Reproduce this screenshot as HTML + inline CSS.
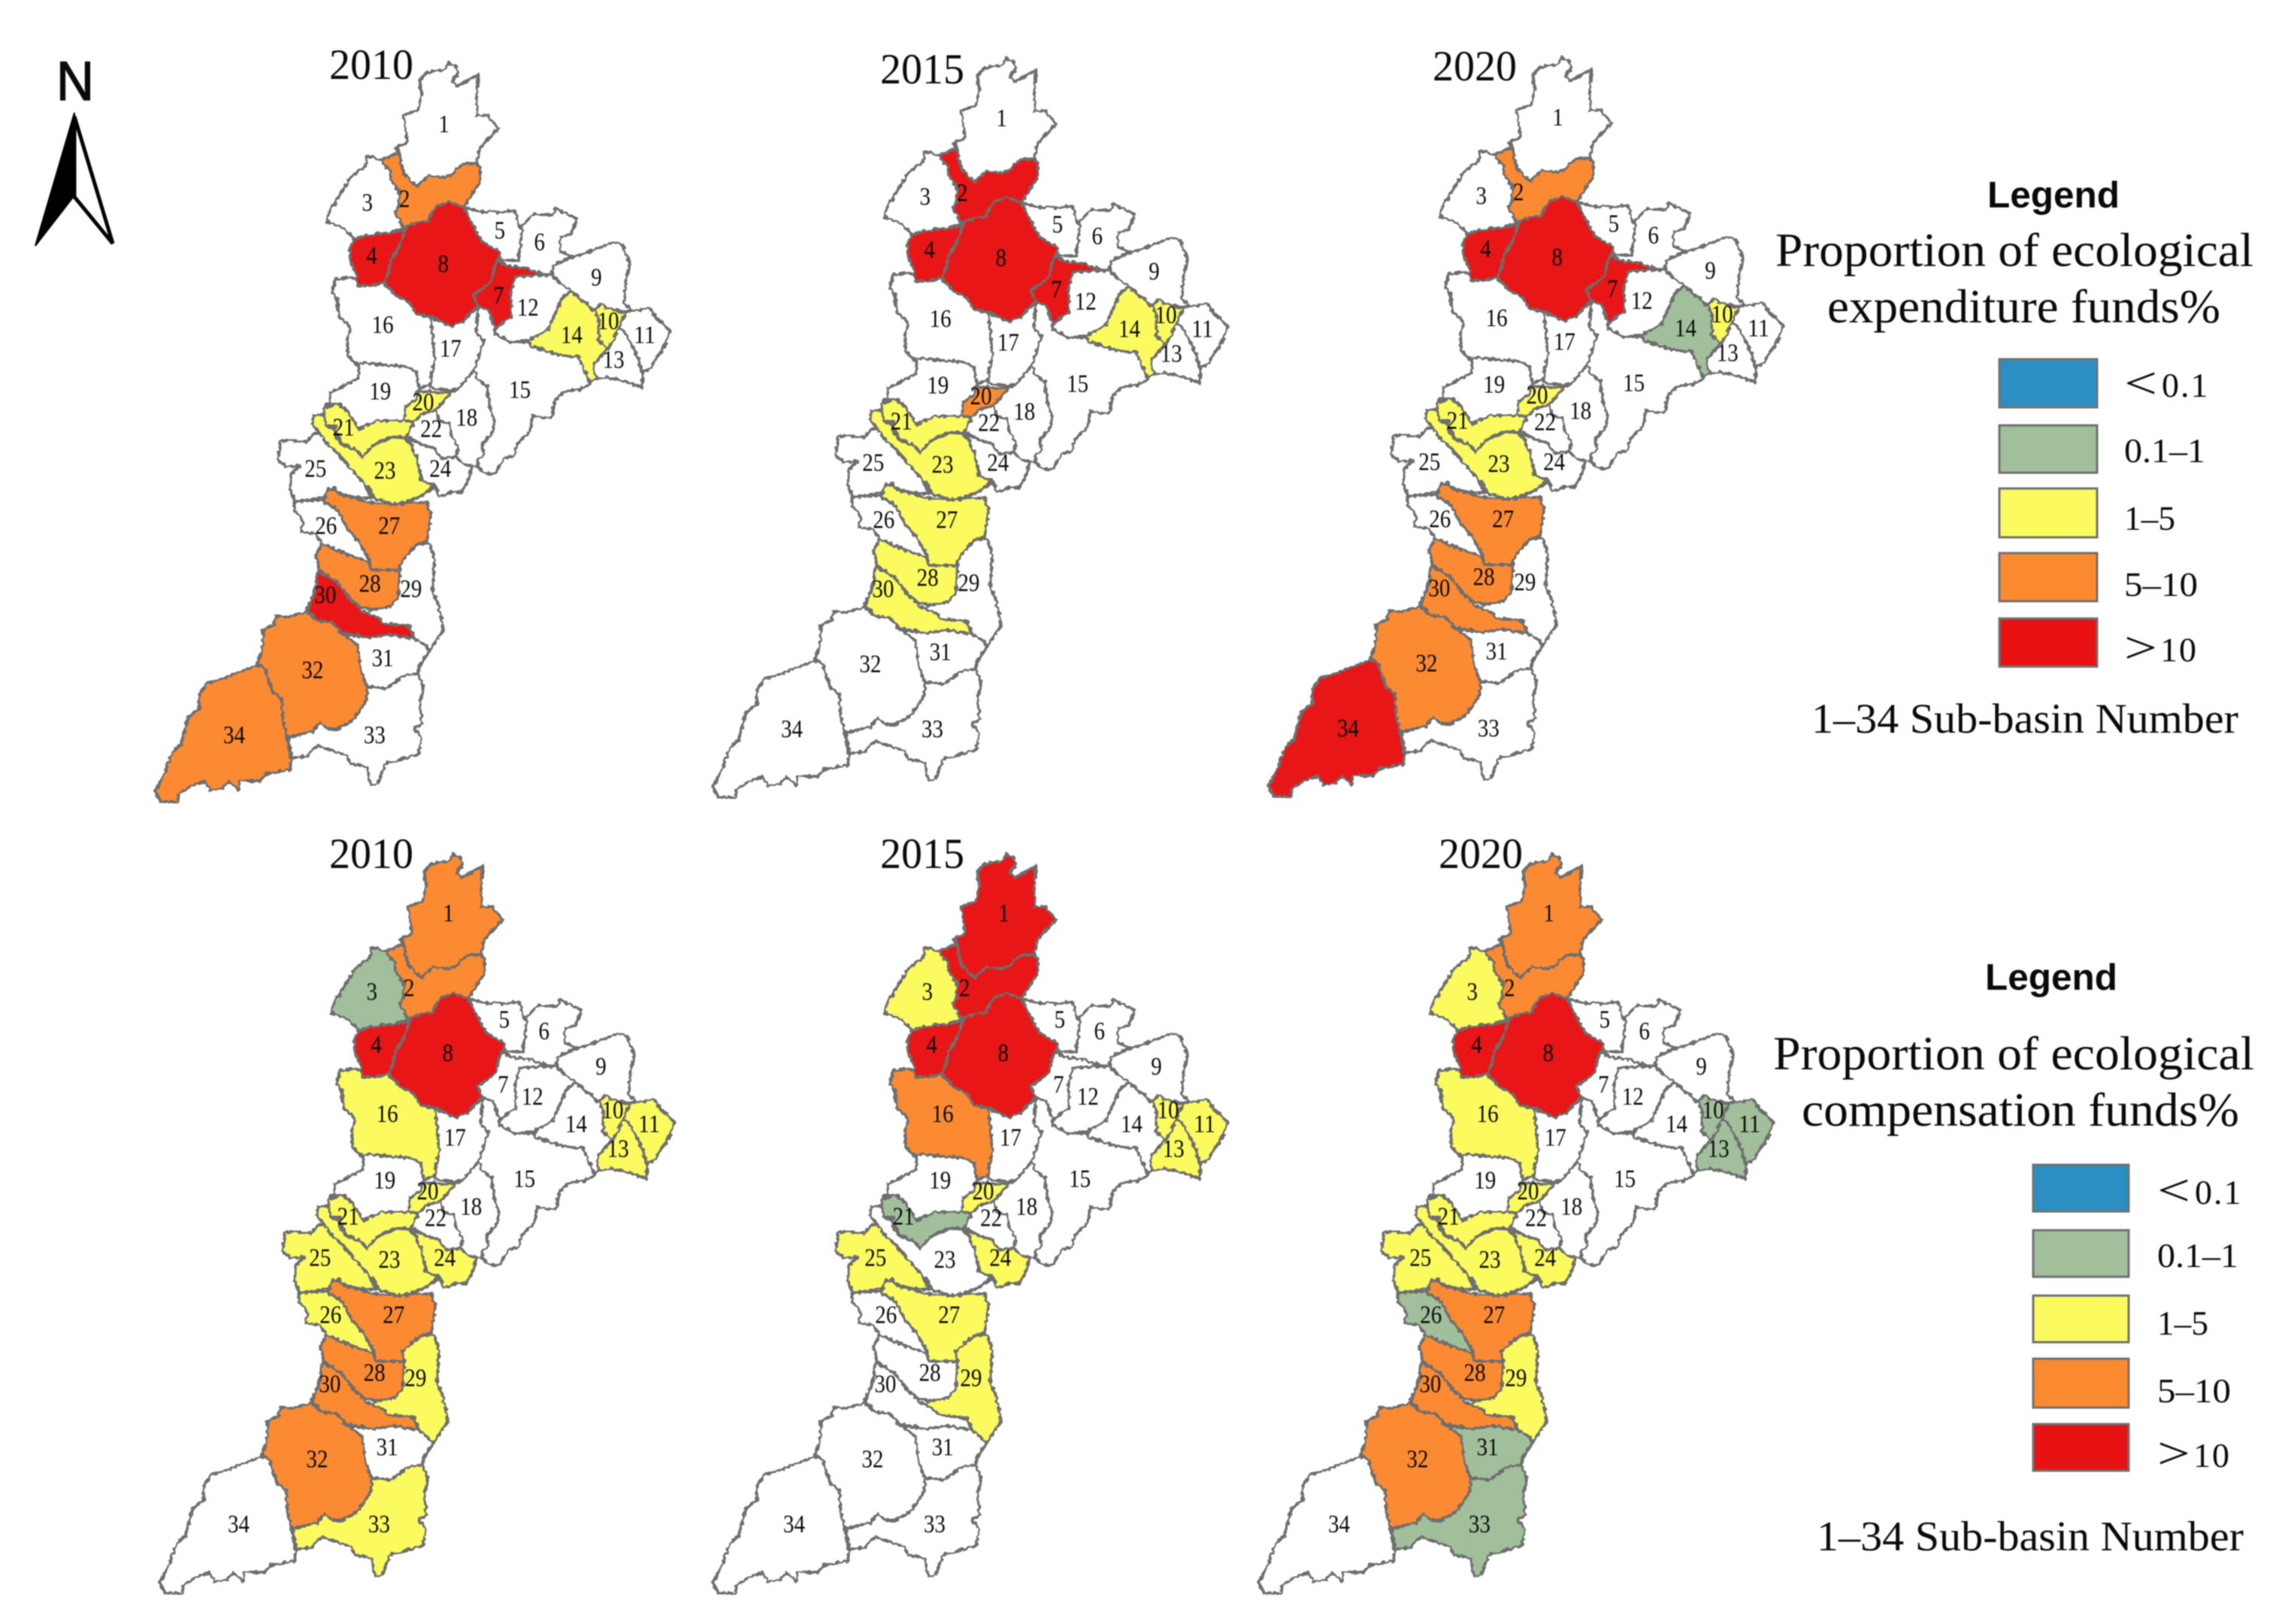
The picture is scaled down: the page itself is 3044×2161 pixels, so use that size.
<!DOCTYPE html>
<html lang="en">
<head>
<meta charset="utf-8">
<title>Proportion of ecological funds by sub-basin</title>
<style>
html,body{margin:0;padding:0;background:#fff;}
svg{display:block;filter:blur(0.7px);}
text{font-family:"Liberation Serif",serif;fill:#0a0a0a;}
.bold{font-family:"Liberation Sans",sans-serif;font-weight:bold;}
.sans{font-family:"Liberation Sans",sans-serif;}
.swatch{stroke:#707070;stroke-width:3;}
</style>
</head>
<body>
<svg id="figure" xmlns="http://www.w3.org/2000/svg" width="3044" height="2161" viewBox="0 0 3044 2161">
<defs>
<filter id="rough" x="-5%" y="-5%" width="110%" height="110%">
<feTurbulence type="fractalNoise" baseFrequency="0.2" numOctaves="1" seed="4"/>
<feDisplacementMap in="SourceGraphic" scale="7" xChannelSelector="R" yChannelSelector="G"/>
</filter>
</defs>
<rect width="3044" height="2161" fill="#fff"/>

<g>
<text class="sans" x="75" y="133" font-size="73" textLength="50" lengthAdjust="spacingAndGlyphs" stroke="#0a0a0a" stroke-width="1.5">N</text>
<polygon points="99,150 47,327 99,260" fill="#000" stroke="#000" stroke-width="2"/>
<polygon points="99,155 150,324 99,262" fill="#fff" stroke="#000" stroke-width="5"/>
</g>

<text x="438" y="105" font-size="57" textLength="112" lengthAdjust="spacingAndGlyphs">2010</text>
<text x="1171" y="111" font-size="57" textLength="112" lengthAdjust="spacingAndGlyphs">2015</text>
<text x="1906" y="107" font-size="57" textLength="112" lengthAdjust="spacingAndGlyphs">2020</text>
<text x="438" y="1155" font-size="57" textLength="112" lengthAdjust="spacingAndGlyphs">2010</text>
<text x="1171" y="1155" font-size="57" textLength="112" lengthAdjust="spacingAndGlyphs">2015</text>
<text x="1914" y="1155" font-size="57" textLength="112" lengthAdjust="spacingAndGlyphs">2020</text>

<g id="maps"></g>

<g>
<text class="bold" x="2644" y="276" font-size="49" textLength="176" lengthAdjust="spacingAndGlyphs">Legend</text>
<text x="2362" y="354" font-size="64" textLength="636" lengthAdjust="spacingAndGlyphs">Proportion of ecological</text>
<text x="2431" y="429" font-size="64" textLength="523" lengthAdjust="spacingAndGlyphs">expenditure funds%</text>
<rect class="swatch" x="2660" y="478" width="130" height="64" fill="#2b8fc4"/>
<rect class="swatch" x="2660" y="566" width="130" height="63" fill="#a1bf9a"/>
<rect class="swatch" x="2660" y="650" width="130" height="65" fill="#fbfb60"/>
<rect class="swatch" x="2660" y="736" width="130" height="64" fill="#fc8a30"/>
<rect class="swatch" x="2660" y="823" width="130" height="64" fill="#e81215"/>
<text x="2826" y="530" font-size="60" textLength="44" lengthAdjust="spacingAndGlyphs">&lt;</text>
<text x="2876" y="528" font-size="46" letter-spacing="2">0.1</text>
<text x="2826" y="615" font-size="46" textLength="108" lengthAdjust="spacingAndGlyphs">0.1–1</text>
<text x="2826" y="705" font-size="46" textLength="68" lengthAdjust="spacingAndGlyphs">1–5</text>
<text x="2826" y="793" font-size="46" textLength="98" lengthAdjust="spacingAndGlyphs">5–10</text>
<text x="2826" y="882" font-size="60" textLength="44" lengthAdjust="spacingAndGlyphs">&gt;</text>
<text x="2874" y="880" font-size="46" letter-spacing="2">10</text>
<text x="2410" y="975" font-size="56" textLength="568" lengthAdjust="spacingAndGlyphs">1–34 Sub-basin Number</text>
</g>

<g>
<text class="bold" x="2641" y="1317" font-size="49" textLength="176" lengthAdjust="spacingAndGlyphs">Legend</text>
<text x="2359" y="1423" font-size="64" textLength="640" lengthAdjust="spacingAndGlyphs">Proportion of ecological</text>
<text x="2397" y="1498" font-size="64" textLength="582" lengthAdjust="spacingAndGlyphs">compensation funds%</text>
<rect class="swatch" x="2705" y="1550" width="127" height="62" fill="#2b8fc4"/>
<rect class="swatch" x="2705" y="1637" width="127" height="62" fill="#a1bf9a"/>
<rect class="swatch" x="2705" y="1724" width="127" height="62" fill="#fbfb60"/>
<rect class="swatch" x="2705" y="1808" width="127" height="65" fill="#fc8a30"/>
<rect class="swatch" x="2705" y="1895" width="127" height="62" fill="#e81215"/>
<text x="2870" y="1604" font-size="60" textLength="44" lengthAdjust="spacingAndGlyphs">&lt;</text>
<text x="2920" y="1602" font-size="46" letter-spacing="2">0.1</text>
<text x="2870" y="1686" font-size="46" textLength="108" lengthAdjust="spacingAndGlyphs">0.1–1</text>
<text x="2870" y="1776" font-size="46" textLength="68" lengthAdjust="spacingAndGlyphs">1–5</text>
<text x="2870" y="1866" font-size="46" textLength="98" lengthAdjust="spacingAndGlyphs">5–10</text>
<text x="2870" y="1954" font-size="60" textLength="44" lengthAdjust="spacingAndGlyphs">&gt;</text>
<text x="2918" y="1952" font-size="46" letter-spacing="2">10</text>
<text x="2417" y="2063" font-size="56" textLength="568" lengthAdjust="spacingAndGlyphs">1–34 Sub-basin Number</text>
</g>
</svg>

<script>
// Class for each sub-basin 1..34: 0 none, 1 <0.1, 2 0.1-1, 3 1-5, 4 5-10, 5 >10
const expenditure2010 = [0,4,0,5,0,0,5,5,0,3,0,0,0,3,0,0,0,0,0,3,3,0,3,0,0,0,4,4,0,5,0,4,0,4];
const expenditure2015 = [0,5,0,5,0,0,5,5,0,3,0,0,0,3,0,0,0,0,0,4,3,0,3,0,0,0,3,3,0,3,0,0,0,0];
const expenditure2020 = [0,4,0,5,0,0,5,5,0,3,0,0,0,2,0,0,0,0,0,3,3,0,3,0,0,0,4,4,0,4,0,4,0,5];
const compensation2010 = [4,4,2,5,0,0,0,5,0,3,3,0,3,0,0,3,0,0,0,3,3,0,3,3,3,3,4,4,3,4,0,4,3,0];
const compensation2015 = [5,5,3,5,0,0,0,5,0,3,3,0,3,0,0,4,0,0,0,3,2,0,0,3,3,0,3,0,3,0,0,0,0,0];
const compensation2020 = [4,4,3,5,0,0,0,5,0,2,2,0,2,0,0,3,0,0,0,3,3,0,3,3,3,2,4,4,3,4,2,4,2,0];
const classColors = ['#ffffff','#2b8fc4','#a1bf9a','#fbfb60','#fc8a30','#e81215'];
const subBasinLabels = ['1','2','3','4','5','6','7','8','9','10','11','12','13','14','15','16','17','18','19','20','21','22','23','24','25','26','27','28','29','30','31','32','33','34'];

// Traced outline helpers (three tracing frames, all mapped to the first panel)
function pts(s,x0,sx,y0,sy){return s.trim().split(/\s+/).map(function(p){var c=p.split(',');return [x0+c[0]/sx,y0+c[1]/sy];});}
function A(s){return pts(s,180,2.06,50,2.8);}
function B(s){return pts(s,180,2.06,560,2.95);}
function Z(s){return pts(s,357.5,3,508,3);}

const outlines = [
A("858,95 880,110 885,130 868,165 885,180 910,160 940,138 935,210 938,290 965,290 995,338 970,375 945,410 935,470 900,470 880,490 870,510 840,522 805,515 770,555 735,505 722,430 715,410 745,390 735,290 775,270 785,210 780,160 800,130 850,118"),
A("722,430 672,455 700,500 700,530 725,575 722,630 712,650 735,710 770,690 800,685 825,630 860,612 900,632 920,590 945,540 945,490 935,470 900,470 880,490 870,510 840,522 805,515 770,555 735,505"),
A("635,440 672,455 700,500 700,530 725,575 722,630 712,650 735,710 695,730 660,730 600,750 570,710 525,685 530,650 555,600 590,520 630,480"),
A("600,750 660,730 695,730 740,715 722,780 700,830 695,870 680,915 640,925 610,925 605,890 588,820 588,780"),
A("900,632 950,650 1000,650 1040,645 1050,695 1060,720 1050,830 1000,830 1000,800 950,760 925,700"),
A("1060,700 1090,660 1145,660 1150,635 1180,655 1212,675 1195,730 1165,745 1165,795 1195,815 1145,850 1140,885 1115,880 1070,860 1015,850 1000,830 1050,830 1060,720"),
A("1000,830 1015,850 1070,860 1115,885 1040,890 1030,950 1030,1040 985,1085 970,1020 940,1000 925,960 975,910 985,850"),
A("735,710 770,690 800,685 825,630 860,612 900,632 925,700 950,760 1000,800 985,850 975,910 925,960 940,1000 895,1060 865,1075 810,1040 770,1030 750,985 715,960 680,915 695,870 700,830 722,780 740,715"),
A("1145,850 1195,820 1240,800 1310,762 1335,770 1355,840 1345,900 1340,990 1358,1015 1345,1020 1295,1010 1275,990 1260,1020 1195,945 1170,920 1145,885"),
A("1275,990 1295,1010 1345,1025 1325,1080 1310,1130 1295,1160 1270,1130 1270,1050 1260,1020"),
A("1345,1020 1410,1010 1425,1040 1465,1090 1450,1150 1430,1190 1410,1235 1390,1245 1370,1170 1340,1095 1325,1080"),
A("1040,890 1115,885 1140,885 1170,920 1195,945 1170,970 1130,1090 1085,1130 1030,1135 985,1105 985,1085 1030,1040 1030,950"),
A("1325,1080 1340,1095 1370,1170 1390,1245 1390,1305 1350,1285 1290,1265 1255,1275 1255,1220 1290,1165 1295,1160 1310,1130"),
A("1195,945 1260,1020 1270,1050 1270,1130 1295,1160 1255,1220 1265,1275 1245,1280 1215,1190 1170,1185 1085,1150 1075,1130 1130,1090 1170,970"),
A("940,1000 970,1020 985,1085 985,1105 1030,1135 1085,1130 1075,1135 1085,1150 1170,1185 1215,1190 1245,1280 1255,1275 1245,1290 1220,1310 1175,1320 1150,1350 1140,1420 1090,1410 1080,1470").concat(B("1045,95 1040,135 1010,150 985,210 960,205"),Z("830,340 835,310 860,290 850,250 890,210"),A("985,1430 970,1370 965,1300 935,1270 930,1235 955,1130 935,1100")),
A("548,900 590,895 605,900 610,925 640,925 680,915 715,960 750,985 770,1030 810,1040 820,1200 808,1290 778,1310 770,1245 740,1225 680,1220 620,1210 608,1220 585,1190 580,1130 590,1080 560,1040 552,970 540,950"),
A("810,1040 865,1075 895,1060 940,1000 935,1100 955,1130 930,1235 885,1310 860,1315 808,1305 820,1200"),
A("885,1310 930,1235 935,1270 965,1300 970,1370 985,1430").concat(Z("890,210 850,250 860,290 835,310 830,340 770,325 750,300 755,260 730,215 720,165 680,155 670,110 735,35")),
A("615,1210 680,1220 740,1225 770,1245 778,1315").concat(Z("590,40 590,70 545,100 540,155 430,155 360,190 340,160 320,125 285,90 250,90 220,110 245,75 245,45"),A("575,1295 610,1270")),
Z("590,40 640,40 690,45 735,35 670,110 610,130 580,160 540,155 545,100 590,70"),
Z("220,110 250,90 285,90 320,125 340,160 360,190 430,155 540,155 580,160 550,220 500,220 440,240 410,260 375,300 345,270 290,245 265,195 270,175 225,175"),
Z("580,160 610,130 670,110 680,155 720,165 730,215 755,260 750,300 690,305 660,265 610,250 570,225 550,220"),
Z("180,135 220,130 225,175 265,185 265,215 290,250 345,270 375,300 410,260 440,240 500,220 545,225 570,255 590,300 610,395 665,415 605,460 510,490 420,465 405,430 380,405 320,340 275,285 230,245 205,205 175,175"),
Z("560,225 610,250 660,265 690,305 750,300 770,325 810,340 800,385 770,440 730,440 680,460 665,415 610,395 590,300 570,255"),
Z("45,235 110,235 150,240 185,205 205,205 230,245 275,285 320,340 380,405 410,465 340,460 235,430 230,460 130,475 105,480 85,430 90,370 125,335 70,340 35,310 45,260"),
B("435,320 490,310 515,315 555,350 580,420 610,470 640,540 640,555 575,520 530,495 510,480 495,445 455,435 460,390 435,350"),
B("525,275 545,265 555,285 640,320 715,330 750,320 800,320 810,370 800,470 770,485 740,535 720,585 645,585 640,540 610,470 580,420 555,350 515,315"),
B("510,480 530,495 575,520 640,555 645,585 720,585 725,590 720,690 700,730 650,740 615,730 590,700 550,630 505,585 495,530"),
B("725,590 720,545 770,485 805,480 820,540 815,670 830,720 845,820 805,905 765,855 750,810 675,795 640,755 650,740 700,730 720,690"),
B("500,590 550,630 590,700 620,745 670,775 675,795 750,805 765,855 700,840 640,850 565,830 540,790 500,785 470,740 490,680"),
B("565,840 640,850 700,840 765,855 800,885 805,905 780,960 775,990 735,1000 690,1050 635,1045 615,960 610,880"),
B("385,765 420,770 470,750 500,785 540,790 565,835 610,880 615,960 635,1045 635,1090 600,1170 555,1210 530,1210 505,1185 485,1220 415,1240 405,1180 400,1090 375,1060 355,970 335,955 350,880 350,820 380,800"),
B("775,990 790,1050 780,1100 785,1190 765,1205 785,1245 775,1310 715,1335 685,1345 665,1425 645,1430 635,1360 590,1345 580,1315 500,1275 470,1315 430,1325 420,1245 485,1220 505,1185 530,1210 555,1210 600,1170 635,1090 635,1045 690,1050 735,1000"),
B("335,960 355,970 375,1060 400,1090 405,1180 415,1240 425,1325 425,1370 360,1385 340,1415 285,1410 285,1450 255,1415 240,1445 205,1450 190,1415 145,1440 120,1465 115,1495 70,1495 55,1455 75,1400 100,1305 125,1270 145,1165 175,1130 175,1075 195,1030 235,1015 285,985")
];

const labelAnchors = A("850,322 742,600 640,615 652,812 1003,718 1112,762 1000,960 848,843 1268,893 1300,1055 1400,1108 1080,1005 1315,1200 1200,1107 1058,1312 682,1070 868,1158 912,1415 675,1318 793,1358 575,1452 815,1458").concat(B("688,195 840,188 498,188 527,412 700,412 647,638 760,660 525,683 682,930 490,978 660,1233 275,1233"));

const panels = [
  {name:'expenditure-2010',values:expenditure2010,dx:0,dy:0,ldx:-2,ldy:0},
  {name:'expenditure-2015',values:expenditure2015,dx:742,dy:-6,ldx:-2,ldy:-2},
  {name:'expenditure-2020',values:expenditure2020,dx:1481,dy:-7,ldx:-1,ldy:-2},
  {name:'compensation-2010',values:compensation2010,dx:6,dy:1053,ldx:-2,ldy:-3},
  {name:'compensation-2015',values:compensation2015,dx:742,dy:1053,ldx:1,ldy:-3},
  {name:'compensation-2020',values:compensation2020,dx:1468,dy:1053,ldx:0,ldy:-3}
];

const NS = 'http://www.w3.org/2000/svg';
const mapsRoot = document.getElementById('maps');
panels.forEach(function(panel){
  const g = document.createElementNS(NS,'g');
  
  
  g.setAttribute('transform', 'translate(' + panel.dx + ' ' + panel.dy + ')');
  const shapes = document.createElementNS(NS,'g');
  
  
  shapes.setAttribute('filter', 'url(#rough)');
  const order = outlines.map(function(_,i){return i;}).sort(function(a,b){return (panel.values[a]>0)-(panel.values[b]>0);});
  order.forEach(function(i){
    const poly = document.createElementNS(NS,'polygon');
    
    
    poly.setAttribute('points', outlines[i].map(function(p){return p[0].toFixed(1)+','+p[1].toFixed(1);}).join(' '));
    poly.setAttribute('fill', classColors[panel.values[i]]);
    poly.setAttribute('stroke', '#6e6e6e');
    poly.setAttribute('stroke-width', '3.6');
    poly.setAttribute('stroke-linejoin', 'round');
    shapes.appendChild(poly);
  });
  g.appendChild(shapes);
  subBasinLabels.forEach(function(label,i){
    const t = document.createElementNS(NS,'text');
    
    
    t.setAttribute('x', (labelAnchors[i][0]+panel.ldx).toFixed(1));
    t.setAttribute('y', (labelAnchors[i][1]+11+panel.ldy).toFixed(1));
    t.setAttribute('text-anchor', 'middle');
    t.setAttribute('font-size', '34');
    t.setAttribute('textLength', String(label.length*14.5));
    t.setAttribute('lengthAdjust', 'spacingAndGlyphs');
    t.textContent = label;
    g.appendChild(t);
  });
  mapsRoot.appendChild(g);
});
</script>
</body>
</html>
